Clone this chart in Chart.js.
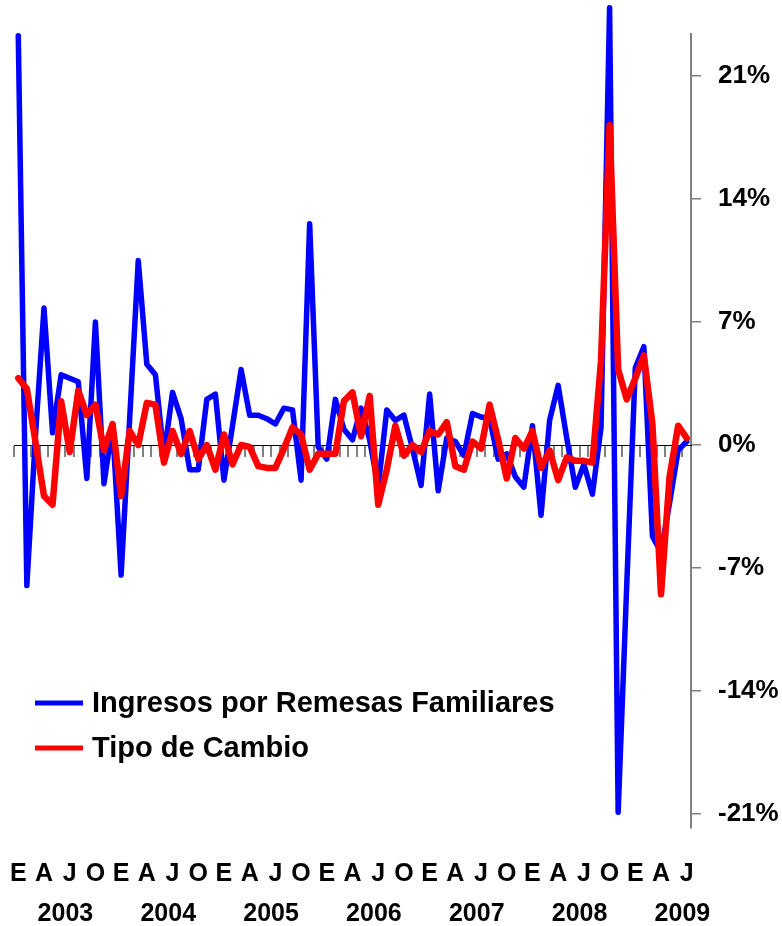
<!DOCTYPE html>
<html>
<head>
<meta charset="utf-8">
<script src="https://cdn.jsdelivr.net/npm/chart.js@4.4.0/dist/chart.umd.min.js"></script>
<style>
  html, body { margin: 0; padding: 0; background: #fff; }
  #wrap { position: relative; width: 782px; height: 926px; }
</style>
</head>
<body>
<div id="wrap"><canvas id="remesasChart"></canvas></div>
<script>
/**
 *  ! Data (monthly % change, Jan 2003 - Jul 2009)
 * **/
const years = ["2003", "2004", "2005", "2006", "2007", "2008", "2009"];
const monthInitials = ["E", "F", "M", "A", "M", "J", "J", "A", "S", "O", "N", "D"];

// Ingresos por Remesas Familiares
const remesas = [
  23.3, -8.0, 0.5, 7.8, 0.7, 4.0, 3.8, 3.6, -1.9, 7.0, -2.2, 1.1,
  -7.4, 1.5, 10.5, 4.6, 4.0, -0.6, 3.0, 1.5, -1.4, -1.4, 2.6, 2.9,
  -2.0, 1.1, 4.3, 1.7, 1.7, 1.5, 1.2, 2.1, 2.0, -2.0, 12.6, -0.1,
  -0.8, 2.6, 0.9, 0.3, 2.1, 0.3, -2.4, 2.0, 1.4, 1.7, -0.2, -2.3,
  2.9, -2.6, 0.4, 0.2, -0.6, 1.8, 1.6, 1.5, -0.8, -0.5, -1.8, -2.4,
  1.1, -4.0, 1.4, 3.4, 0.4, -2.4, -1.1, -2.8, 1.0, 24.9, -20.9, -8.0,
  4.4, 5.6, -5.2, -6.1, -3.3, -0.3, 0.2,
];

// Tipo de Cambio
const tipoCambio = [
  3.8, 3.2, 0.2, -2.9, -3.4, 2.5, -0.4, 3.1, 1.7, 2.3, -0.3, 1.2,
  -2.9, 0.8, 0.0, 2.4, 2.3, -1.0, 0.8, -0.5, 0.8, -0.8, 0.0, -1.4,
  0.6, -1.1, 0.0, -0.1, -1.2, -1.3, -1.3, -0.2, 1.0, 0.6, -1.4, -0.5,
  -0.5, -0.5, 2.5, 3.0, 0.5, 2.8, -3.4, -1.4, 1.1, -0.6, 0.0, -0.4,
  0.8, 0.6, 1.3, -1.2, -1.4, 0.2, -0.2, 2.3, 0.3, -1.9, 0.4, -0.2,
  0.8, -1.3, -0.3, -2.0, -0.7, -0.9, -0.9, -1.0, 4.8, 18.2, 4.3, 2.6,
  3.8, 5.1, 1.2, -8.5, -1.8, 1.1, 0.4,
];

const yTicks = [-21, -14, -7, 0, 7, 14, 21];

// one category per month
const months = [];
years.forEach((y) => monthInitials.forEach((m) => months.push(m + " " + y)));
months.length = remesas.length;

// only E, A, J, O are written under the axis
const monthTickLabels = months.map((m, i) => (i % 3 === 0 ? monthInitials[i % 12] : ""));
// year label sits in the middle of its year
const yearTickPos = years.map((y, k) => k * 12 + 5.5);

const FONT = "'Liberation Sans', Arial, sans-serif";
Chart.defaults.font.family = FONT;
Chart.defaults.font.weight = "bold";
Chart.defaults.color = "#000";

/**
 *  ! Legend drawn inside the plot, bottom left
 * **/
const insideLegend = {
  id: "insideLegend",
  afterDraw(chart) {
    const c = chart.ctx;
    c.save();
    c.font = "bold 29px " + FONT;
    c.textBaseline = "middle";
    chart.data.datasets.forEach((ds, k) => {
      const y = 703 + k * 45;
      c.strokeStyle = ds.borderColor;
      c.lineWidth = 5;
      c.beginPath();
      c.moveTo(35, y);
      c.lineTo(83, y);
      c.stroke();
      c.fillStyle = "#000";
      c.fillText(ds.label, 92, y + 1);
    });
    c.restore();
  },
};

// bottom label rows must not push the plot area inwards
const noSidePadding = (axis, h) => {
  axis.height = h;
  axis.paddingLeft = 0;
  axis.paddingRight = 0;
};

const ctx = document.getElementById("remesasChart");

new Chart(ctx, {
  type: "line",
  data: {
    labels: months,
    datasets: [
      {
        label: "Ingresos por Remesas Familiares",
        data: remesas,
        borderColor: "#0000FF",
        backgroundColor: "#0000FF",
        borderWidth: 5.5,
        pointRadius: 0,
        tension: 0,
        borderJoinStyle: "round",
        borderCapStyle: "round",
        clip: false,
        order: 2,
        xAxisID: "x",
        yAxisID: "y",
      },
      {
        label: "Tipo de Cambio",
        data: tipoCambio,
        borderColor: "#FF0000",
        backgroundColor: "#FF0000",
        borderWidth: 6.5,
        pointRadius: 0,
        tension: 0,
        borderJoinStyle: "round",
        borderCapStyle: "round",
        clip: false,
        order: 1,
        xAxisID: "x",
        yAxisID: "y",
      },
    ],
  },
  options: {
    responsive: true,
    maintainAspectRatio: false,
    animation: false,
    layout: { padding: { left: 14, top: 34, right: 0, bottom: 0 } },
    scales: {
      y: {
        position: "right",
        min: -21.8,
        max: 23.4,
        afterBuildTicks: (axis) => {
          axis.ticks = yTicks.map((v) => ({ value: v }));
        },
        afterFit: (axis) => {
          axis.width = 91;
        },
        ticks: {
          font: { size: 26, weight: "bold" },
          padding: 17,
          callback: (v) => v + "%",
        },
        grid: {
          drawOnChartArea: false,
          tickLength: 10,
          color: "#808080",
          lineWidth: 1.5,
        },
        border: { color: "#808080", width: 2 },
      },
      // zero line with monthly tick marks
      x: {
        type: "category",
        offset: true,
        position: { y: 0 },
        ticks: { display: false },
        grid: {
          offset: true,
          drawOnChartArea: false,
          tickLength: 11,
          color: "#808080",
          lineWidth: 2,
        },
        border: { color: "#000", width: 1 },
      },
      // E A J O letters
      x2: {
        type: "category",
        labels: monthTickLabels,
        position: "bottom",
        offset: true,
        afterFit: (axis) => noSidePadding(axis, 62),
        ticks: {
          autoSkip: false,
          maxRotation: 0,
          padding: 31,
          font: { size: 25, weight: "bold" },
        },
        grid: { display: false, drawTicks: false },
        border: { display: false },
      },
      // years
      x3: {
        type: "linear",
        position: "bottom",
        min: -0.5,
        max: months.length - 0.5,
        afterBuildTicks: (axis) => {
          axis.ticks = yearTickPos.map((v) => ({ value: v }));
        },
        afterFit: (axis) => noSidePadding(axis, 36),
        ticks: {
          autoSkip: false,
          maxRotation: 0,
          padding: 9,
          font: { size: 25, weight: "bold" },
          callback: (v, i) => years[i],
        },
        grid: { display: false, drawTicks: false },
        border: { display: false },
      },
    },
    plugins: {
      legend: { display: false },
      tooltip: { enabled: false },
    },
  },
  plugins: [insideLegend],
});
</script>
</body>
</html>
